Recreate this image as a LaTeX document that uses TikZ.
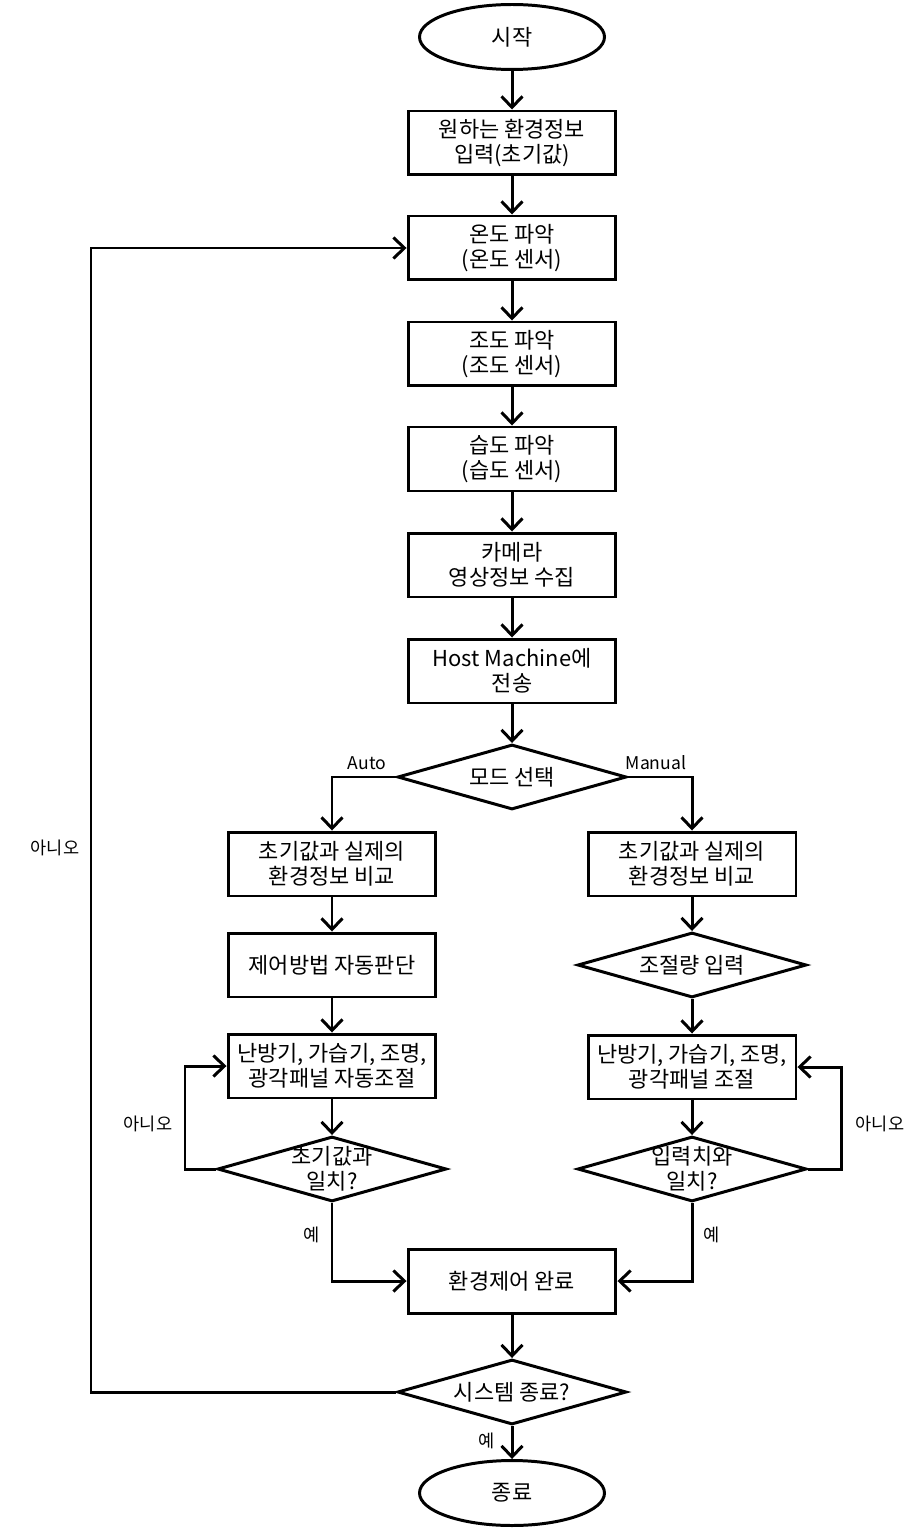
\documentclass[tikz,border=0pt]{standalone}
\usepackage{fontspec}
\setmainfont{Noto Sans CJK KR}
\usetikzlibrary{shapes.geometric,arrows.meta}
\tikzset{
  box/.style={draw, line width=1.7pt, minimum width=4.16cm, minimum height=1.28cm, align=center, inner sep=0pt},
  term/.style={draw, ellipse, line width=1.7pt, minimum width=3.7cm, minimum height=1.3cm, inner sep=0pt},
  decision/.style={draw, diamond, line width=1.7pt, minimum width=4.58cm, minimum height=1.3cm, inner sep=0pt},
  arr/.style={line width=1.7pt, -{Straight Barb[length=2.2mm,width=4.2mm]}},
  tag/.style={font=\fontsize{10}{12}\selectfont, inner sep=0pt}
}

\begin{document}
\begin{tikzpicture}[x=0.02cm, y=-0.02cm, font=\fontsize{12.5}{14.5}\selectfont]
            \useasboundingbox (0,0) rectangle (919,1533);
            \node[term] (start) at (512,37) {시작};
            \node[box] (input) at (512,143) {원하는 환경정보\\입력(초기값)};
            \node[box] (temp) at (512,248) {온도 파악\\(온도 센서)};
            \node[box] (lux) at (512,354) {조도 파악\\(조도 센서)};
            \node[box] (humid) at (512,459) {습도 파악\\(습도 센서)};
            \node[box] (cam) at (512,565) {카메라\\영상정보 수집};
            \node[box] (host) at (512,671) {Host Machine에\\전송};
            \node[decision, label=center:모드 선택] (mode) at (512,777) {};
            \node[box] (cmpA) at (332,864) {초기값과 실제의\\환경정보 비교};
            \node[box] (judge) at (332,965) {제어방법 자동판단};
            \node[box] (ctrlA) at (332,1066) {난방기, 가습기, 조명,\\광각패널 자동조절};
            \node[decision, label={[align=center]center:초기값과\\일치?}] (chkA) at (332,1169) {};
            \node[box] (cmpM) at (692,864) {초기값과 실제의\\환경정보 비교};
            \node[decision, label=center:조절량 입력] (amount) at (692,965) {};
            \node[box] (ctrlM) at (692,1067) {난방기, 가습기, 조명,\\광각패널 조절};
            \node[decision, label={[align=center]center:입력치와\\일치?}] (chkM) at (692,1169) {};
            \node[box] (done) at (512,1281) {환경제어 완료};
            \node[decision, label=center:시스템 종료?] (quit) at (512,1392) {};
            \node[term] (stop) at (512,1493) {종료};

            \foreach \a/\b in {start/input, input/temp, temp/lux, lux/humid, humid/cam, cam/host, host/mode,
                               cmpA/judge, judge/ctrlA, ctrlA/chkA, cmpM/amount, amount/ctrlM, ctrlM/chkM,
                               done/quit, quit/stop}
                \draw[arr] (\a) -- (\b);

            \draw[arr] (mode.west) -| (cmpA.north);
            \draw[arr] (mode.east) -| (cmpM.north);
            \draw[arr] (chkA.south) |- (done.west);
            \draw[arr] (chkM.south) |- (done.east);

            \coordinate (backL) at (91,1392);
            \coordinate (loopA) at (185,1169);
            \coordinate (loopM) at (841,1169);
            \draw[arr] (quit.west) -- (backL) |- (temp.west);
            \draw[arr] (chkA.west) -- (loopA) |- (ctrlA.west);
            \draw[arr] (chkM.east) -- (loopM) |- (ctrlM.east);

            \node[tag] (auto) at (367,763) {Auto};
            \node[tag] (manual) at (656,763) {Manual};
            \node[tag] (noMain) at (55,848) {아니오};
            \node[tag] (noA) at (148,1124) {아니오};
            \node[tag] (noM) at (880,1124) {아니오};
            \node[tag] (yesA) at (312,1235) {예};
            \node[tag] (yesM) at (712,1235) {예};
            \node[tag] (yesQ) at (487,1441) {예};
        \end{tikzpicture}
\end{document}
